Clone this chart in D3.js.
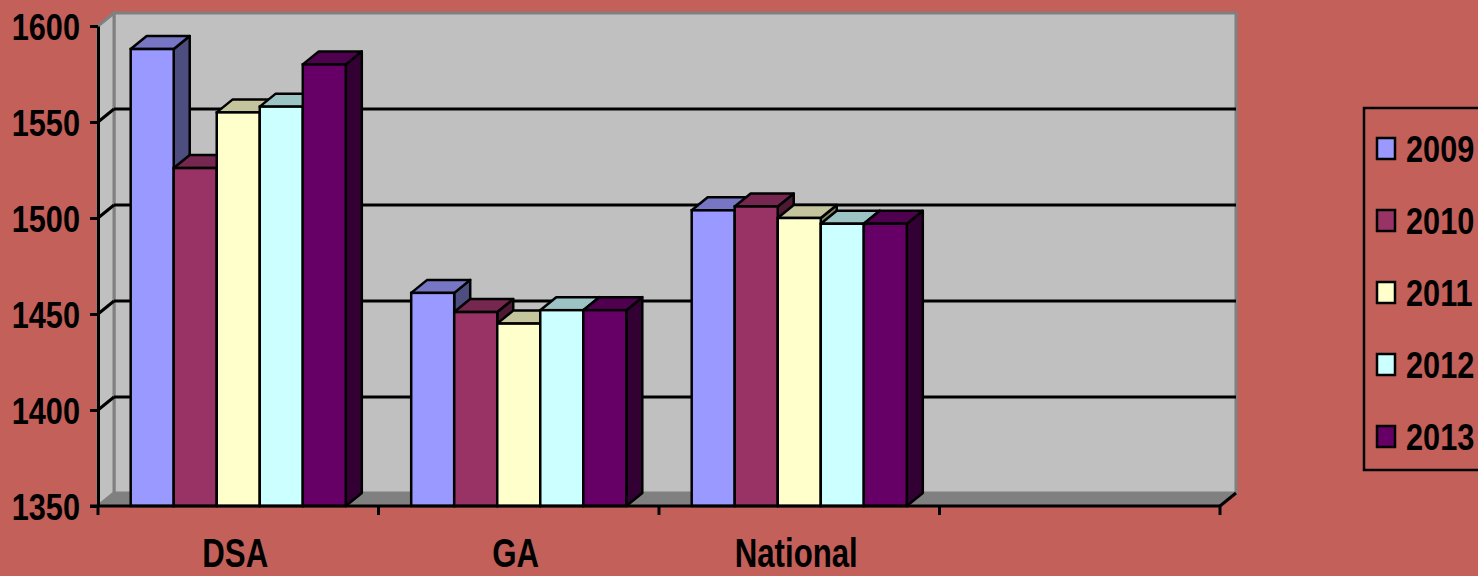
<!DOCTYPE html>
<html>
<head>
<meta charset="utf-8">
<script src="https://cdn.jsdelivr.net/npm/d3@7"></script>
<style>
  body { margin: 0; background: #c3605a; }
  svg { display: block; }
</style>
</head>
<body>
<div id="chart"></div>
<script>
// data
let categories = ["DSA", "GA", "National", ""];
let years = ["2009", "2010", "2011", "2012", "2013"];
let values = {
    "DSA": [1588, 1526, 1555, 1558, 1580],
    "GA": [1461, 1451, 1445, 1452, 1452],
    "National": [1504, 1506, 1500, 1497, 1497]
};
let colors = ["#9999ff", "#993366", "#ffffcc", "#ccffff", "#660066"];
let yTicks = [1350, 1400, 1450, 1500, 1550, 1600];

let width = 1478, height = 576;
let dx = 16, dy = -13; // 3D depth

let svg = d3.select("#chart").append("svg")
    .attr("width", width)
    .attr("height", height);

svg.append("rect").attr("width", width).attr("height", height).attr("fill", "#c3605a");

let y = d3.scaleLinear().domain([1350, 1600]).range([506, 26]);
let x0 = d3.scaleBand().domain(categories).range([98, 1220]);
let x1 = d3.scaleBand().domain(years).range([0, x0.bandwidth()]).paddingInner(0).paddingOuter(0.76);

let xLeft = x0.range()[0], xRight = x0.range()[1];
let yTop = y(1600), yBase = y(1350);

/** WALLS **/
// back wall
svg.append("rect")
    .attr("x", xLeft + dx).attr("y", yTop + dy)
    .attr("width", xRight - xLeft).attr("height", yBase - yTop)
    .attr("fill", "#c0c0c0").attr("stroke", "#808080").attr("stroke-width", 3);
// side wall
svg.append("polygon")
    .attr("points", [[xLeft, yTop], [xLeft + dx, yTop + dy], [xLeft + dx, yBase + dy], [xLeft, yBase]].join(" "))
    .attr("fill", "#c0c0c0").attr("stroke", "#808080").attr("stroke-width", 3);
// floor
svg.append("polygon")
    .attr("points", [[xLeft, yBase], [xLeft + dx, yBase + dy], [xRight + dx, yBase + dy], [xRight, yBase]].join(" "))
    .attr("fill", "#808080");

// gridlines
let grid = svg.append("g").attr("class", "grid");
yTicks.filter(t => t > 1350 && t < 1600).forEach(t => {
    grid.append("line")
        .attr("x1", xLeft + dx).attr("x2", xRight + dx)
        .attr("y1", y(t) + dy).attr("y2", y(t) + dy)
        .attr("stroke", "#000").attr("stroke-width", 3);
    grid.append("line")
        .attr("x1", xLeft).attr("x2", xLeft + dx)
        .attr("y1", y(t)).attr("y2", y(t) + dy)
        .attr("stroke", "#000").attr("stroke-width", 3);
});

/** BARS **/
function shade(c, k) {
    let r = d3.rgb(c);
    return d3.rgb(r.r * k, r.g * k, r.b * k).formatHex();
}
categories.filter(c => values[c]).forEach(cat => {
    let g = svg.append("g").attr("class", "cat");
    values[cat].forEach((v, i) => {
        let bx = x0(cat) + x1(years[i]);
        let bw = x1.bandwidth();
        let by = y(v);
        // side
        g.append("polygon")
            .attr("points", [[bx + bw, by], [bx + bw + dx, by + dy], [bx + bw + dx, yBase + dy], [bx + bw, yBase]].join(" "))
            .attr("fill", shade(colors[i], 0.5)).attr("stroke", "#000").attr("stroke-width", 2.5).attr("stroke-linejoin", "round");
        // top
        g.append("polygon")
            .attr("points", [[bx, by], [bx + dx, by + dy], [bx + bw + dx, by + dy], [bx + bw, by]].join(" "))
            .attr("fill", shade(colors[i], 0.77)).attr("stroke", "#000").attr("stroke-width", 2.5).attr("stroke-linejoin", "round");
        // front
        g.append("rect")
            .attr("x", bx).attr("y", by)
            .attr("width", bw).attr("height", yBase - by)
            .attr("fill", colors[i]).attr("stroke", "#000").attr("stroke-width", 2.5);
    });
});

/** AXES **/
let yAxis = svg.append("g")
    .attr("transform", "translate(" + xLeft + ",0)")
    .call(d3.axisLeft(y).tickValues(yTicks).tickFormat(d3.format("d")).tickSize(8).tickSizeOuter(0));
yAxis.select(".domain").attr("stroke", "#000").attr("stroke-width", 3);
yAxis.selectAll(".tick line").attr("stroke", "#000").attr("stroke-width", 3);
yAxis.selectAll(".tick text")
    .attr("x", null).attr("dy", null)
    .attr("transform", "translate(-18,13) scale(0.83,1)")
    .attr("fill", "#000")
    .style("font-family", "'Liberation Sans', Arial, sans-serif")
    .style("font-weight", "bold")
    .style("font-size", "37px");

// x axis
let xAxis = svg.append("g").attr("class", "xaxis");
xAxis.append("line")
    .attr("x1", xLeft - 8).attr("x2", xRight)
    .attr("y1", yBase).attr("y2", yBase)
    .attr("stroke", "#000").attr("stroke-width", 3);
xAxis.append("line")
    .attr("x1", xRight).attr("x2", xRight + dx)
    .attr("y1", yBase).attr("y2", yBase + dy)
    .attr("stroke", "#000").attr("stroke-width", 3);
categories.map(c => x0(c)).concat([xRight]).forEach(t => {
    xAxis.append("line")
        .attr("x1", t).attr("x2", t)
        .attr("y1", yBase).attr("y2", yBase + 9)
        .attr("stroke", "#000").attr("stroke-width", 3);
});
categories.forEach(c => {
    xAxis.append("text")
        .attr("transform", "translate(" + (x0(c) + x0.bandwidth() / 2 - 3) + ",567) scale(0.78,1)")
        .attr("text-anchor", "middle")
        .style("font-family", "'Liberation Sans', Arial, sans-serif")
        .style("font-weight", "bold")
        .style("font-size", "40px")
        .text(c);
});

/** LEGEND **/
let legend = svg.append("g").attr("class", "legend");
legend.append("rect")
    .attr("x", 1364).attr("y", 108)
    .attr("width", 200).attr("height", 362)
    .attr("fill", "none").attr("stroke", "#000").attr("stroke-width", 2.5);
years.forEach((yr, i) => {
    let cy = 149 + i * 72;
    legend.append("rect")
        .attr("x", 1377).attr("y", cy - 11)
        .attr("width", 18).attr("height", 21)
        .attr("fill", colors[i]).attr("stroke", "#000").attr("stroke-width", 2.5);
    legend.append("text")
        .attr("transform", "translate(1406," + (cy + 13) + ") scale(0.83,1)")
        .style("font-family", "'Liberation Sans', Arial, sans-serif")
        .style("font-weight", "bold")
        .style("font-size", "37px")
        .text(yr);
});
</script>
</body>
</html>
